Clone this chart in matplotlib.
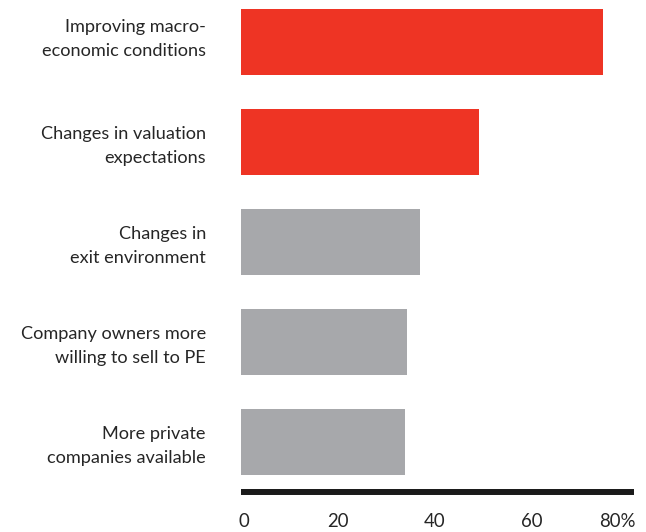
import matplotlib
matplotlib.use("Agg")
import matplotlib.pyplot as plt
import matplotlib.transforms as mtransforms

categories = [
    "Improving macro-\neconomic conditions",
    "Changes in valuation\nexpectations",
    "Changes in\nexit environment",
    "Company owners more\nwilling to sell to PE",
    "More private\ncompanies available",
]
values = [74.7, 49.1, 37.0, 34.2, 33.8]
highlight = [True, True, False, False, False]
xticks = [0, 20, 40, 60, 80]
xtick_labels = ["0", "20", "40", "60", "80%"]

RED = "#EE3424"
GRAY = "#A7A8AB"
TEXT = "#262626"

plt.rcParams["font.family"] = ["Lato", "DejaVu Sans"]

fig = plt.figure(figsize=(6.46, 5.32), dpi=100)
ax = fig.add_axes([240.7 / 646, (532 - 492.3) / 532, 393.3 / 646, 492.3 / 532])

ypos = list(range(len(categories)))
colors = [RED if h else GRAY for h in highlight]
ax.barh(ypos, values, height=0.657, color=colors, edgecolor="none")

ax.set_xlim(0, 81)
ax.set_ylim(4.505, -0.418)

ax.set_yticks(ypos)
ax.set_yticklabels(categories, fontsize=13.1, color=TEXT, linespacing=1.6,
                   ha="right", multialignment="right")
ax.tick_params(axis="y", length=0, pad=25)


def shift(artist, dx_px, dy_px):
    artist.set_transform(artist.get_transform() +
                         mtransforms.ScaledTranslation(dx_px / 100, dy_px / 100,
                                                       fig.dpi_scale_trans))


yl = ax.get_yticklabels()
for i, t in enumerate(yl):
    shift(t, 0, 8 if i == 0 else 1.5)

ax.set_xticks(xticks)
ax.set_xticklabels(xtick_labels, fontsize=13.4, color=TEXT)
ax.tick_params(axis="x", length=0, pad=15)

xl = ax.get_xticklabels()
shift(xl[0], 3.5, 0)
shift(xl[-1], -12, 0)

for s in ["top", "right", "left"]:
    ax.spines[s].set_visible(False)
ax.spines["bottom"].set_linewidth(4.3)
ax.spines["bottom"].set_color("#1a1a1a")
ax.spines["bottom"].set_capstyle("butt")

fig.savefig("out.png", dpi=100)
